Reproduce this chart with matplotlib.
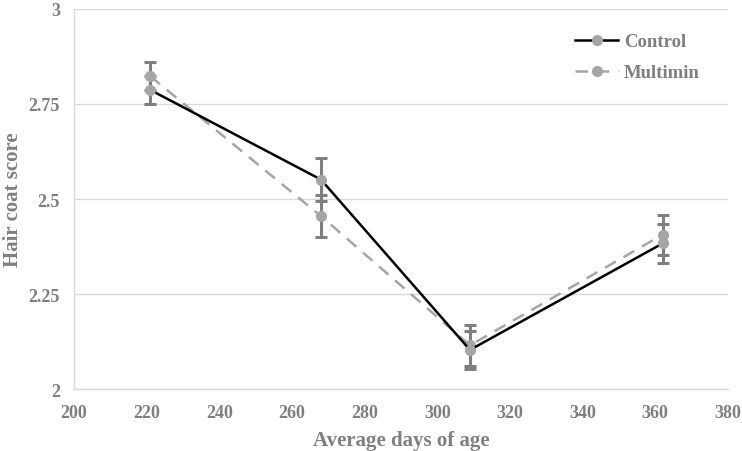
import numpy as np
import matplotlib
matplotlib.use("Agg")
from matplotlib import pyplot as plt

days = [221, 268, 309, 362]  # average days of age
control = [2.787, 2.551, 2.103, 2.383]
control_err = [0.037, 0.057, 0.050, 0.052]
multimin = [2.823, 2.455, 2.115, 2.406]
multimin_err = [0.037, 0.055, 0.053, 0.052]

plt.rcParams['font.family'] = ['Liberation Serif', 'DejaVu Serif']
plt.rcParams['font.weight'] = 'bold'
text_grey = '#7f7f7f'

fig = plt.figure(figsize=(7.42, 4.52), dpi=100)
ax = fig.add_axes([0.0997, 0.137, 0.8813, 0.841])

# error bars first, then lines + markers on top
ax.errorbar(days, control, yerr=control_err, fmt='none', ecolor='#7f7f7f',
            elinewidth=2.2, capsize=4, capthick=2.2, zorder=2)
ax.errorbar(days, multimin, yerr=multimin_err, fmt='none', ecolor='#7f7f7f',
            elinewidth=2.2, capsize=4, capthick=2.2, zorder=2)

ax.plot(days, control, color='black', lw=1.8, marker='o', ms=7,
        mfc='#a5a5a5', mec='#a5a5a5', label='Control', zorder=4)
ax.plot(days, multimin, color='#a5a5a5', lw=1.8, ls=(0, (5, 3.5)), marker='o', ms=7,
        mfc='#a5a5a5', mec='#a5a5a5', label='Multimin', zorder=3)

ax.set_xlim(200, 380)
ax.set_ylim(2, 3)
ax.set_xticks(np.arange(200, 381, 20))
ax.set_yticks([2, 2.25, 2.5, 2.75, 3])
ax.set_yticklabels(['2', '2.25', '2.5', '2.75', '3'])

ax.grid(axis='y', color='#d9d9d9', lw=1)
ax.set_axisbelow(True)
for side in ['top', 'right']:
    ax.spines[side].set_visible(False)
for side in ['left', 'bottom']:
    ax.spines[side].set_color('#d9d9d9')
    ax.spines[side].set_linewidth(1)

ax.tick_params(length=0, labelsize=13, colors=text_grey, pad=10)
ax.tick_params(axis='x', pad=11)
for lbl in ax.get_xticklabels() + ax.get_yticklabels():
    lbl.set_fontweight('bold')

ax.set_xlabel('Average days of age', fontsize=15, color=text_grey, fontweight='bold', labelpad=6)
ax.set_ylabel('Hair coat score', fontsize=15, color=text_grey, fontweight='bold')
ax.yaxis.set_label_coords(-0.078, 0.5)

leg = fig.legend(loc='upper left', bbox_to_anchor=(575 / 742, 1 - 34 / 452), frameon=False,
                 fontsize=13.5, handlelength=2.3, handletextpad=0.3, labelspacing=0.75,
                 borderpad=0, borderaxespad=0)
for t in leg.get_texts():
    t.set_color(text_grey)
    t.set_fontweight('bold')

fig.savefig('out.png', dpi=100)
